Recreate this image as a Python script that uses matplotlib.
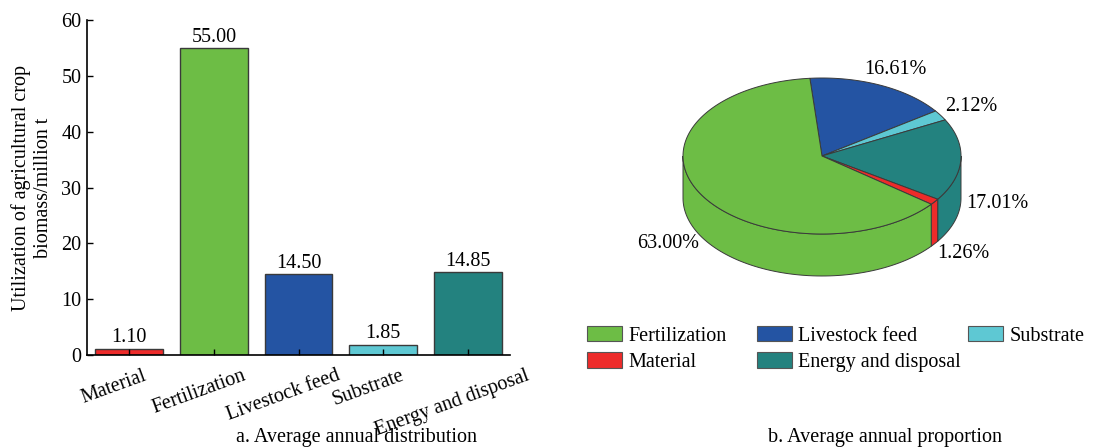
import numpy as np
import matplotlib.pyplot as plt
import matplotlib.transforms as mtrans
from matplotlib.patches import Polygon, Patch
from matplotlib.legend import Legend

plt.rcParams['font.family'] = ['Liberation Serif', 'DejaVu Serif']

# ---- data ----
categories = ["Material", "Fertilization", "Livestock feed", "Substrate", "Energy and disposal"]
values = [1.10, 55.00, 14.50, 1.85, 14.85]          # million t
yticks = [0, 10, 20, 30, 40, 50, 60]
pie_order = ["Livestock feed", "Substrate", "Energy and disposal", "Material", "Fertilization"]
legend_columns = [["Fertilization", "Material"],
                  ["Livestock feed", "Energy and disposal"],
                  ["Substrate"]]

colors = {
    "Material": "#ED2B2A",
    "Fertilization": "#6DBD45",
    "Livestock feed": "#2454A3",
    "Substrate": "#5EC8D3",
    "Energy and disposal": "#23827F",
}
edge = "#3a3a3a"
FS = 14.5

W, H = 1094, 448
fig = plt.figure(figsize=(W / 100, H / 100), dpi=100)

# ---- a. bar chart ----
ax = fig.add_axes([87 / W, 1 - 355 / H, (510 - 87) / W, (355 - 20) / H])
x = np.arange(len(categories))
ax.bar(x, values, width=0.8, color=[colors[c] for c in categories],
       edgecolor=edge, linewidth=1.0)
for xi, v in zip(x, values):
    ax.annotate(f"{v:.2f}", (xi, v), xytext=(0, 1), textcoords="offset points",
                ha="center", va="bottom", fontsize=FS)
ax.set_xlim(-0.5, len(categories) - 0.5)
ax.set_ylim(0, 60)
ax.set_yticks(yticks)
ax.set_xticks(x)
ax.set_xticklabels(categories, rotation=20, ha="center", fontsize=FS)
ax.tick_params(axis="both", direction="in", length=4, width=1.0, labelsize=FS)
ax.tick_params(axis="x", pad=8)
ax.tick_params(axis="y", pad=4)
for lab in ax.get_xticklabels():
    lab.set_transform(lab.get_transform() + mtrans.ScaledTranslation(-15 / 100, 0, fig.dpi_scale_trans))
for s in ("top", "right"):
    ax.spines[s].set_visible(False)
for s in ("left", "bottom"):
    ax.spines[s].set_linewidth(1.2)
ax.set_ylabel("Utilization of agricultural crop\nbiomass/million t", fontsize=FS, labelpad=6,
              linespacing=1.2)

# ---- b. 3D pie ----
pax = fig.add_axes([560 / W, 0, (W - 560) / W, 1])
pax.set_xlim(560, W)
pax.set_ylim(H, 0)
pax.axis("off")

cx, cy, a, b, depth = 822, 156, 139, 78, 42
val_map = dict(zip(categories, values))
total = sum(values)
fracs = [val_map[c] / total for c in pie_order]


def top_pt(t):
    r = np.deg2rad(t)
    return cx + a * np.cos(r), cy - b * np.sin(r)


start = 95.0
spans = []
t1 = start
for c, f in zip(pie_order, fracs):
    t2 = t1 - f * 360.0
    spans.append((c, t1, t2))
    t1 = t2

# side walls (front half only)
for c, t1, t2 in spans:
    lo, hi = max(t2, -180.0), min(t1, 0.0)
    if lo < hi:
        ts = np.linspace(lo, hi, 80)
        top = [top_pt(t) for t in ts]
        bot = [(px, py + depth) for px, py in top[::-1]]
        pax.add_patch(Polygon(top + bot, closed=True, facecolor=colors[c],
                              edgecolor=edge, linewidth=0.7, zorder=1))

# top faces
for c, t1, t2 in spans:
    ts = np.linspace(t1, t2, 160)
    pts = [(cx, cy)] + [top_pt(t) for t in ts]
    pax.add_patch(Polygon(pts, closed=True, facecolor=colors[c],
                          edgecolor=edge, linewidth=0.7, zorder=2))

# percentage labels
for (c, t1, t2), f in zip(spans, fracs):
    m = np.deg2rad((t1 + t2) / 2)
    lx = cx + 1.26 * a * np.cos(m)
    ly = cy - 1.22 * b * np.sin(m) + (depth if np.sin(m) < 0 else 0)
    pax.text(lx, ly, f"{f * 100:.2f}%", ha="center", va="center", fontsize=FS, zorder=3)

# legend: one column block per group
col_x = [587, 757, 968]
for xpos, names in zip(col_x, legend_columns):
    handles = [Patch(facecolor=colors[c], edgecolor="#555555", linewidth=0.8) for c in names]
    leg = Legend(pax, handles, names, loc="upper left", bbox_to_anchor=(xpos, 326),
                 bbox_transform=pax.transData, frameon=False, borderpad=0, borderaxespad=0,
                 handlelength=1.75, handleheight=0.8, handletextpad=0.3,
                 labelspacing=0.32, fontsize=FS)
    pax.add_artist(leg)

# panel captions
fig.text(357 / W, 1 - 447 / H, "a. Average annual distribution", ha="center", va="bottom", fontsize=FS)
fig.text(885 / W, 1 - 447 / H, "b. Average annual proportion", ha="center", va="bottom", fontsize=FS)

fig.savefig("out.png", dpi=100)
